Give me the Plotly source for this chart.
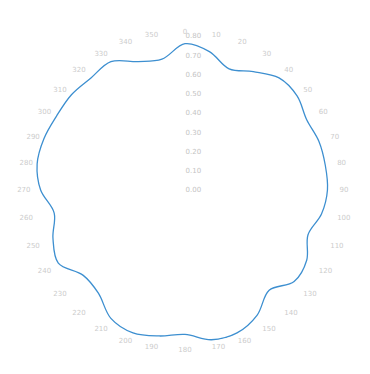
import plotly.graph_objects as go

# Direction (degrees, clockwise from north) and measured magnitude
angles = [0, 10, 20, 30, 40, 50, 60, 70, 80, 90, 100, 110, 120, 130, 140, 150, 160, 170,
          180, 190, 200, 210, 220, 230, 240, 250, 260, 270, 280, 290, 300, 310, 320, 330, 340, 350]
values = [0.76, 0.73, 0.67, 0.71, 0.76, 0.76, 0.73, 0.74, 0.74, 0.74, 0.72, 0.68, 0.73, 0.74,
          0.68, 0.75, 0.79, 0.79, 0.75, 0.77, 0.79, 0.77, 0.70, 0.69, 0.76, 0.73, 0.69, 0.75,
          0.78, 0.78, 0.77, 0.77, 0.76, 0.77, 0.71, 0.69]

angle_ticks = list(range(0, 360, 10))
angle_labels = [str(a) for a in angle_ticks]
radial_ticks = [0.0, 0.1, 0.2, 0.3, 0.4, 0.5, 0.6, 0.7, 0.8]

# close the loop
theta = angles + [angles[0]]
r = values + [values[0]]

fig = go.Figure()
fig.add_trace(go.Scatterpolar(
    r=r, theta=theta, mode="lines",
    line=dict(color="#3d8fd0", width=1.3, shape="spline", smoothing=1.0),
    showlegend=False,
))

fig.update_layout(
    width=370, height=374,
    margin=dict(l=31, r=31, t=36, b=30),
    paper_bgcolor="white",
    plot_bgcolor="white",
    font=dict(family="DejaVu Sans", size=8, color="#c4c4c4"),
    polar=dict(
        bgcolor="white",
        angularaxis=dict(
            rotation=90, direction="clockwise",
            tickvals=angle_ticks, ticktext=angle_labels,
            showgrid=False, showline=False, ticks="",
            tickfont=dict(size=7, color="#cccccc"),
        ),
        radialaxis=dict(
            range=[0, 0.8], tickvals=radial_ticks, tickformat=".2f",
            angle=90, tickangle=90,
            showgrid=False, showline=False, ticks="",
            tickfont=dict(size=7, color="#c4c4c4"),
        ),
    ),
)

fig.write_html("out.html")
